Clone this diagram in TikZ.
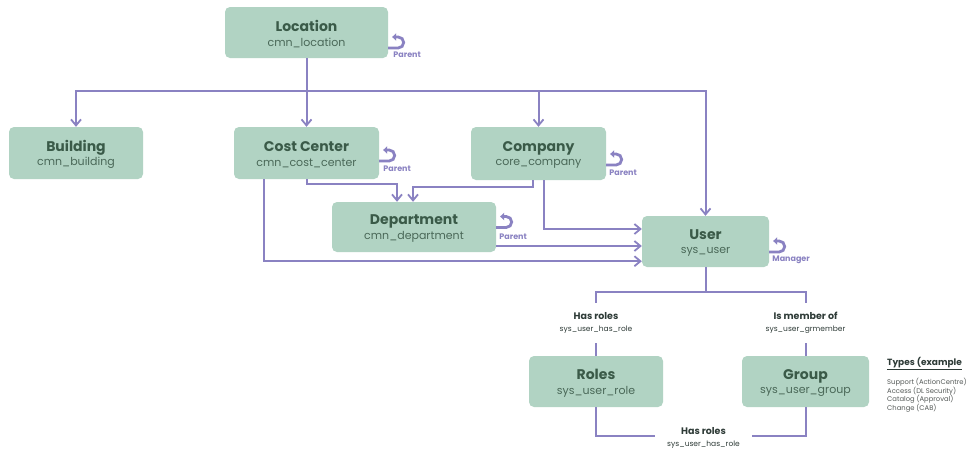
\documentclass[tikz,border=0pt]{standalone}
\usepackage{fontspec}
\setmainfont{Poppins}
\usetikzlibrary{arrows.meta}
\definecolor{boxfill}{HTML}{B1D3C3}
\definecolor{ttlc}{HTML}{3A5A48}
\definecolor{subc}{HTML}{4A6858}
\definecolor{lnc}{HTML}{8A82C2}
\definecolor{darkc}{HTML}{2E3B37}
\definecolor{greyc}{HTML}{555A58}
\newcommand{\enttitle}[1]{{\color{ttlc}\bfseries\fontsize{14}{16}\selectfont #1}}
\newcommand{\entsub}[1]{{\color{subc}\fontsize{11}{13}\selectfont #1}}
\newcommand{\reltitle}[1]{{\bfseries\fontsize{9.5}{11}\selectfont #1}}
\newcommand{\relsub}[1]{{\fontsize{7.5}{9}\selectfont #1}}
% name, position, width, height, title, subtitle
\newcommand{\entity}[6]{%
  \node[ent, minimum width=#3, minimum height=#4] (#1) at (#2) {};
  \node[enttext] (#1t) at ([yshift=-1.5pt]#1.center) {\enttitle{#5}\\\entsub{#6}};}
\begin{document}
\begin{tikzpicture}[x=1pt,y=-1pt,
  ent/.style={fill=boxfill, rounded corners=5pt, inner sep=0pt},
  enttext/.style={inner sep=0pt, align=center, font=\fontsize{11}{14.5}\selectfont},
  conn/.style={draw=lnc, line width=2pt},
  arr/.style={conn, -{Straight Barb[length=6pt,width=10pt,line width=1.8pt]}},
  selfloop/.style={draw=lnc, line width=2.8pt, -{Triangle[length=4pt,width=7.5pt]}},
  plbl/.style={text=lnc, font=\bfseries\fontsize{8}{9}\selectfont, anchor=west, inner sep=0pt},
  lbl/.style={align=center, inner sep=0pt, text=darkc, font=\fontsize{9}{12.5}\selectfont}]
\useasboundingbox (0,0) rectangle (969,450);
\fill[white] (0,0) rectangle (969,450);

% entities
\entity{loc}{306.5,32.5}{163pt}{51pt}{Location}{cmn\_location}
\entity{bld}{76,153}{134pt}{52pt}{Building}{cmn\_building}
\entity{cc}{306.5,153}{145pt}{52pt}{Cost Center}{cmn\_cost\_center}
\entity{co}{538.5,153.5}{135pt}{53pt}{Company}{core\_company}
\entity{dept}{414,227}{164pt}{50pt}{Department}{cmn\_department}
\entity{user}{705.5,241.5}{127pt}{51pt}{User}{sys\_user}
\entity{roles}{596,381.5}{134pt}{51pt}{Roles}{sys\_user\_role}
\entity{grp}{805.5,381.5}{127pt}{51pt}{Group}{sys\_user\_group}

% Location distribution
\coordinate (hl) at (306.5,91);
\draw[arr] (loc.south) -- (cc.north);
\draw[arr] (hl) -| (bld.north);
\draw[arr] (hl) -| (user.north);
\draw[arr] (co.north |- hl) -- (co.north);

% to department
\draw[arr] (cc.south) -- ++(0,5) -| ([xshift=-17pt]dept.north);
\draw[arr] ([xshift=-5.5pt]co.south) -- ++(0,6.5) -| ([xshift=-1pt]dept.north);

% to user
\draw[arr] ([xshift=-42.5pt]cc.south) |- ([yshift=6pt]user.south west);
\draw[arr] ([xshift=5.5pt]co.south) |- ([yshift=12.5pt]user.west);
\draw[arr] ([yshift=-19pt]dept.east) -- ([yshift=-4.5pt]user.west);

% self loops
\tikzset{hook/.style={insert path={-- ++(10,0) arc[start angle=90,end angle=-90,radius=5.5] -- ++(-6,0)}}}
\draw[selfloop] ([yshift=-15.5pt]loc.east) [hook];
\node[plbl] (ploc) at ([xshift=5pt,yshift=-22.5pt]loc.east) {Parent};
\draw[selfloop] ([yshift=-8pt]cc.east) [hook];
\node[plbl] (pcc) at ([xshift=4pt,yshift=-16pt]cc.east) {Parent};
\draw[selfloop] ([yshift=-11.5pt]co.east) [hook];
\node[plbl] (pco) at ([xshift=3pt,yshift=-19.5pt]co.east) {Parent};
\draw[selfloop] ([yshift=-0.5pt]dept.east) [hook];
\node[plbl] (pdept) at ([xshift=3pt,yshift=-10pt]dept.east) {Parent};
\draw[selfloop] ([yshift=-10.5pt]user.east) [hook];
\node[plbl] (puser) at ([xshift=3pt,yshift=-18.5pt]user.east) {Manager};

% user to roles / groups
\node[lbl, minimum height=40pt] (hr1) at (596,323) {\reltitle{Has roles}\\\relsub{sys\_user\_has\_role}};
\node[lbl, minimum height=40pt] (im) at (805.5,323) {\reltitle{Is member of}\\\relsub{sys\_user\_grmember}};
\draw[conn] (user.south) -- ++(0,25) coordinate (uj);
\draw[conn] (hr1.north) |- (uj) -| (im.north);
\draw[conn] (hr1.south) -- (roles.north);
\draw[conn] (im.south) -- (grp.north);

% group to roles
\node[lbl, minimum width=97pt] (hr2) at (703.5,438) {\reltitle{Has roles}\\\relsub{sys\_user\_has\_role}};
\draw[conn] (roles.south) |- ([yshift=2pt]hr2.west);
\draw[conn] (grp.south) |- ([yshift=2pt]hr2.east);

% types
\node[anchor=base west, inner sep=0pt, text=darkc, font=\bfseries\fontsize{9}{11}\selectfont] (ttypes) at (887,365) {\underline{Types (example}};
\node[anchor=north west, inner sep=0pt, align=left, text=greyc, font=\fontsize{6.8}{8.6}\selectfont] (ltypes) at (887,378) {Support (ActionCentre)\\Access (DL Security)\\Catalog (Approval)\\Change (CAB)};
\end{tikzpicture}
\end{document}
